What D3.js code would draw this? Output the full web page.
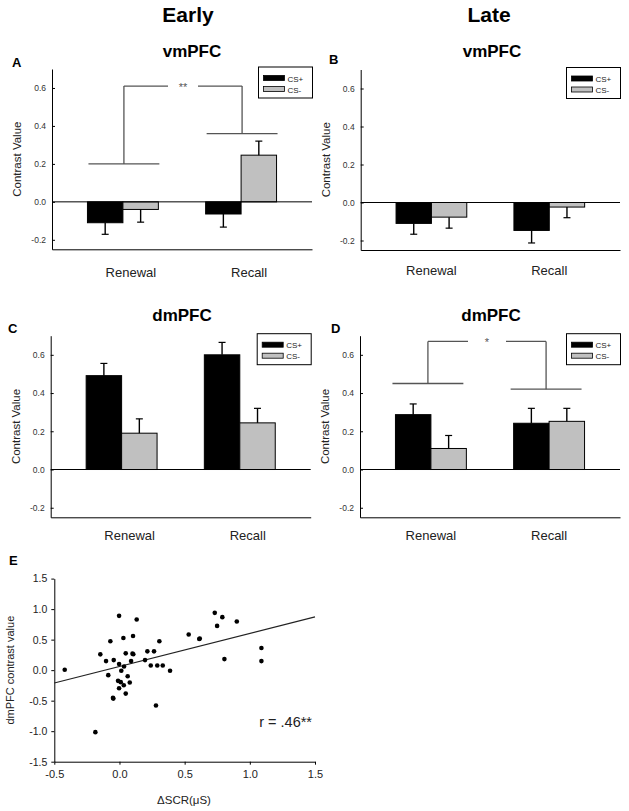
<!DOCTYPE html>
<html>
<head>
<meta charset="utf-8">
<script src="https://cdn.jsdelivr.net/npm/d3@7/dist/d3.min.js"></script>
<style>
  html, body { margin: 0; padding: 0; background: #fff; }
  svg { display: block; font-family: "Liberation Sans", Arial, sans-serif; }
</style>
</head>
<body>
<svg id="chart" width="629" height="811"></svg>
<script>
// ---------------- DATA ----------------
const categories = ["Renewal", "Recall"];
const seriesNames = ["CS+", "CS-"];
const seriesColors = ["#000000", "#c0c0c0"];
const barTicks = [-0.2, 0.0, 0.2, 0.4, 0.6];

// [category][series] means and SEMs
const earlyVmMean = [[-0.110, -0.040], [-0.064, 0.246]];
const earlyVmErr  = [[0.061, 0.067], [0.069, 0.074]];
const lateVmMean  = [[-0.110, -0.077], [-0.147, -0.024]];
const lateVmErr   = [[0.057, 0.058], [0.066, 0.056]];
const earlyDmMean = [[0.491, 0.190], [0.600, 0.244]];
const earlyDmErr  = [[0.064, 0.075], [0.065, 0.076]];
const lateDmMean  = [[0.287, 0.110], [0.242, 0.252]];
const lateDmErr   = [[0.056, 0.068], [0.078, 0.068]];

// significance brackets: [left level, right level, top level], label
const bracketA = [0.20, 0.36, 0.61];
const bracketALabel = "**";
const bracketD = [0.45, 0.42, 0.67];
const bracketDLabel = "*";

// scatter (panel E)
const scatterX = [-0.42, -0.185, -0.147, -0.103, -0.086, -0.07, -0.047, -0.05, -0.044, -0.011,
  -0.003, -0.003, -0.003, 0.01, 0.014, 0.03, 0.033, 0.035, 0.048, 0.048, 0.063, 0.079, 0.089,
  0.104, 0.106, 0.10, 0.132, 0.196, 0.214, 0.24, 0.265, 0.28, 0.29, 0.306, 0.332, 0.388,
  0.531, 0.616, 0.612, 0.731, 0.749, 0.789, 0.805, 0.90, 1.089, 1.089];
const scatterY = [0.007, -1.016, 0.259, 0.148, -0.082, 0.473, -0.466, -0.455, 0.165, -0.175,
  0.89, 0.10, -0.296, -0.197, -0.01, 0.527, -0.247, 0.06, 0.275, -0.384, -0.099, -0.203, 0.148,
  0.56, 0.26, 0.27, 0.83, 0.165, 0.308, 0.077, 0.308, -0.58, 0.077, 0.473, 0.077, -0.01,
  0.583, 0.517, 0.51, 0.939, 0.725, 0.868, 0.181, 0.797, 0.362, 0.148];
const fitX = [-0.5, 1.5];
const fitY = [-0.21, 0.873];
const scatterXTicks = [-0.5, 0.0, 0.5, 1.0, 1.5];
const scatterYTicks = [-1.5, -1.0, -0.5, 0.0, 0.5, 1.0, 1.5];

// ---------------- DRAWING ----------------
const svg = d3.select("#chart");
const fmt = d => d.toFixed(1);

// column headers
svg.append("text").attr("x", 188).attr("y", 22).attr("text-anchor", "middle")
  .attr("font-size", 21).attr("font-weight", "bold").text("Early");
svg.append("text").attr("x", 489).attr("y", 22).attr("text-anchor", "middle")
  .attr("font-size", 21).attr("font-weight", "bold").text("Late");

function barPanel(o) {
  const g = svg.append("g");
  const x = d3.scaleBand().domain(categories).range([o.x0, o.x1])
    .paddingInner(0.4).paddingOuter(0.3);
  const xs = d3.scaleBand().domain(seriesNames).range([0, x.bandwidth()]);
  const y = d3.scaleLinear().domain([-0.25, 0.7]).range([o.yb, o.yt]);

  // title & letter
  g.append("text").attr("x", o.titleX).attr("y", o.titleY).attr("text-anchor", "middle")
    .attr("font-size", 17).attr("font-weight", "bold").text(o.title);
  g.append("text").attr("x", o.letterX).attr("y", o.letterY)
    .attr("font-size", 13).attr("font-weight", "bold").text(o.letter);

  // bars
  categories.forEach((c, ci) => {
    seriesNames.forEach((s, si) => {
      const v = o.mean[ci][si];
      const e = o.err[ci][si];
      const bx = x(c) + xs(s);
      g.append("rect")
        .attr("x", bx).attr("width", xs.bandwidth())
        .attr("y", y(Math.max(0, v))).attr("height", Math.abs(y(v) - y(0)))
        .attr("fill", seriesColors[si]).attr("stroke", "#000").attr("stroke-width", 1);
      const cx = bx + xs.bandwidth() / 2;
      const tip = v >= 0 ? v + e : v - e;
      g.append("line").attr("x1", cx).attr("x2", cx).attr("y1", y(v)).attr("y2", y(tip))
        .attr("stroke", "#000").attr("stroke-width", 1.4);
      g.append("line").attr("x1", cx - 3.5).attr("x2", cx + 3.5).attr("y1", y(tip)).attr("y2", y(tip))
        .attr("stroke", "#000").attr("stroke-width", 1.2);
    });
  });

  // axes
  const ya = g.append("g").attr("transform", `translate(${o.x0},0)`)
    .call(d3.axisLeft(y).tickValues(barTicks).tickFormat(fmt).tickSizeInner(-3).tickSizeOuter(0).tickPadding(6));
  ya.select(".domain").attr("stroke", "#000");
  ya.selectAll(".tick line").attr("stroke", "#000");
  ya.selectAll(".tick text").attr("font-size", 8.5).attr("fill", "#333")
    .attr("font-family", "Liberation Sans, Arial, sans-serif");
  const xa = g.append("g").attr("transform", `translate(0,${o.yb})`)
    .call(d3.axisBottom(x).tickValues([]).tickSizeOuter(0));
  xa.select(".domain").attr("stroke", "#000");
  g.append("line").attr("x1", o.x0).attr("x2", o.x1).attr("y1", y(0)).attr("y2", y(0))
    .attr("stroke", "#000").attr("stroke-width", 1);

  // category labels
  categories.forEach(c => {
    g.append("text").attr("x", x(c) + x.bandwidth() / 2 + o.labelOffset).attr("y", o.catY)
      .attr("text-anchor", "middle").attr("font-size", 13).attr("fill", "#222").text(c);
  });

  // y label
  g.append("text")
    .attr("transform", `translate(${o.x0 - 31},${(o.yt + o.yb) / 2}) rotate(-90)`)
    .attr("text-anchor", "middle").attr("font-size", 11.5).attr("fill", "#222").text("Contrast Value");

  // brackets
  if (o.bracket) {
    const [lv, rv, tv] = o.bracket;
    const bc = "#555";
    const lx0 = x(categories[0]), lx1 = lx0 + x.bandwidth();
    const rx0 = x(categories[1]), rx1 = rx0 + x.bandwidth();
    const lc = (lx0 + lx1) / 2 + o.bracketShift, rc = (rx0 + rx1) / 2 + o.bracketShift;
    const mid = (lc + rc) / 2;
    const gap = o.bracketGap;
    const segs = [
      [lx0 + o.bracketShift, y(lv), lx1 + o.bracketShift, y(lv)],
      [lc, y(lv), lc, y(tv)],
      [lc, y(tv), mid - gap, y(tv)],
      [mid + gap, y(tv), rc, y(tv)],
      [rc, y(tv), rc, y(rv)],
      [rx0 + o.bracketShift, y(rv), rx1 + o.bracketShift, y(rv)]
    ];
    segs.forEach(sg => g.append("line").attr("x1", sg[0]).attr("y1", sg[1]).attr("x2", sg[2]).attr("y2", sg[3])
      .attr("stroke", bc).attr("stroke-width", 1.3));
    g.append("text").attr("x", mid).attr("y", y(tv) + 5).attr("text-anchor", "middle")
      .attr("font-size", 11).attr("fill", "#555").text(o.bracketLabel);
  }

  // legend
  const lw = 54, lh = 31;
  const lx = o.x1 - lw + 0.5, ly = o.yt - 2;
  const lg = g.append("g").attr("transform", `translate(${lx},${ly})`);
  lg.append("rect").attr("width", lw).attr("height", lh).attr("fill", "#fff")
    .attr("stroke", "#000").attr("stroke-width", 1);
  seriesNames.forEach((s, i) => {
    lg.append("rect").attr("x", 5).attr("y", 8.5 + i * 11).attr("width", 21).attr("height", 5)
      .attr("fill", seriesColors[i]).attr("stroke", "#000").attr("stroke-width", 0.8);
    lg.append("text").attr("x", 29).attr("y", 14.5 + i * 11).attr("font-size", 8)
      .attr("fill", "#222").text(s);
  });
}

barPanel({ x0: 52, x1: 312, yt: 69, yb: 249.3, mean: earlyVmMean, err: earlyVmErr,
  title: "vmPFC", titleX: 192, titleY: 57, letter: "A", letterX: 12, letterY: 67,
  labelOffset: 8, catY: 277, bracket: bracketA, bracketLabel: bracketALabel, bracketShift: 1, bracketGap: 15 });
barPanel({ x0: 360.7, x1: 620, yt: 69.5, yb: 250, mean: lateVmMean, err: lateVmErr,
  title: "vmPFC", titleX: 492, titleY: 57, letter: "B", letterX: 329, letterY: 64,
  labelOffset: 0, catY: 275 });
barPanel({ x0: 50.7, x1: 310.7, yt: 335.7, yb: 517.3, mean: earlyDmMean, err: earlyDmErr,
  title: "dmPFC", titleX: 182, titleY: 321, letter: "C", letterX: 8, letterY: 333,
  labelOffset: 8, catY: 540 });
barPanel({ x0: 360, x1: 620, yt: 335.7, yb: 517.3, mean: lateDmMean, err: lateDmErr,
  title: "dmPFC", titleX: 491, titleY: 321, letter: "D", letterX: 331, letterY: 333,
  labelOffset: 0, catY: 540, bracket: bracketD, bracketLabel: bracketDLabel, bracketShift: -3, bracketGap: 19 });

// ---------------- SCATTER (E) ----------------
(function () {
  const g = svg.append("g");
  const x = d3.scaleLinear().domain([-0.5, 1.5]).range([54.3, 315]);
  const y = d3.scaleLinear().domain([-1.5, 1.5]).range([761.7, 578.6]);

  g.append("text").attr("x", 9).attr("y", 565).attr("font-size", 13).attr("font-weight", "bold").text("E");

  const ya = g.append("g").attr("transform", `translate(${x.range()[0]},0)`)
    .call(d3.axisLeft(y).tickValues(scatterYTicks).tickFormat(fmt).tickSizeInner(3).tickSizeOuter(0).tickPadding(4));
  ya.selectAll(".tick text").attr("font-size", 10.5).attr("fill", "#222")
    .attr("font-family", "Liberation Sans, Arial, sans-serif");
  ya.selectAll(".domain, .tick line").attr("stroke", "#000");
  const xa = g.append("g").attr("transform", `translate(0,${y.range()[0]})`)
    .call(d3.axisBottom(x).tickValues(scatterXTicks).tickFormat(fmt).tickSizeInner(3).tickSizeOuter(0).tickPadding(6));
  xa.selectAll(".tick text").attr("font-size", 11).attr("fill", "#222")
    .attr("font-family", "Liberation Sans, Arial, sans-serif");
  xa.selectAll(".domain, .tick line").attr("stroke", "#000");

  g.append("line").attr("x1", x(fitX[0])).attr("y1", y(fitY[0])).attr("x2", x(fitX[1])).attr("y2", y(fitY[1]))
    .attr("stroke", "#222").attr("stroke-width", 1.2);

  g.selectAll("circle.pt").data(scatterX.map((v, i) => [v, scatterY[i]])).enter()
    .append("circle").attr("class", "pt").attr("cx", d => x(d[0])).attr("cy", d => y(d[1]))
    .attr("r", 2.3).attr("fill", "#000");

  g.append("text").attr("transform", `translate(14,${(y.range()[0] + y.range()[1]) / 2}) rotate(-90)`)
    .attr("text-anchor", "middle").attr("font-size", 11).attr("fill", "#222").text("dmPFC contrast value");
  g.append("text").attr("x", 184).attr("y", 804).attr("text-anchor", "middle")
    .attr("font-size", 11.5).attr("fill", "#222").text("ΔSCR(μS)");
  g.append("text").attr("x", 312).attr("y", 727).attr("text-anchor", "end")
    .attr("font-size", 14.5).attr("fill", "#222").text("r = .46**");
})();
</script>
</body>
</html>
